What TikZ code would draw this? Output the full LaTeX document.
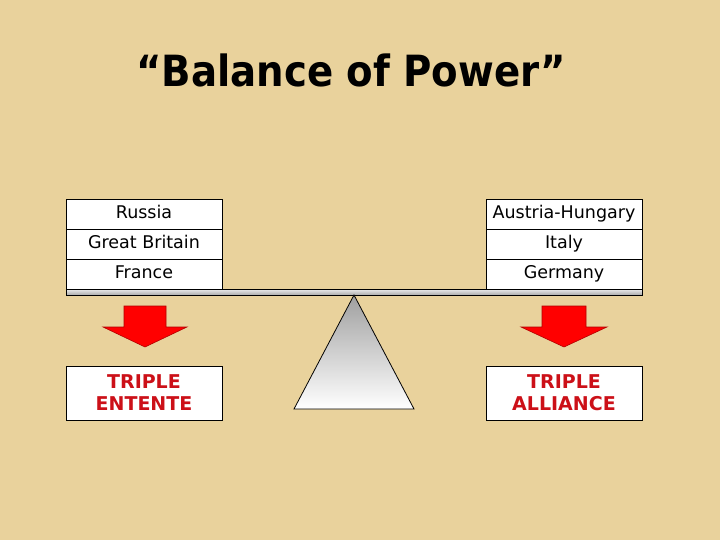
\documentclass[tikz,border=0pt]{standalone}
\usepackage{fontspec}
\setmainfont{DejaVu Sans}
\newfontfamily\titlefont{DejaVu Sans Condensed}
\usepackage{xcolor}
\usetikzlibrary{positioning}
\definecolor{parchment}{RGB}{233,210,156}
\definecolor{pactred}{RGB}{204,16,24}
\tikzstyle{country} = [rectangle, draw, fill=white, line width=0.8pt, minimum width=156pt, minimum height=30pt, inner sep=0, outer sep=0, text height=12.5pt, text depth=3.5pt, font=\fontsize{17.5}{20}\selectfont]
\tikzstyle{pact} = [rectangle, draw, fill=white, line width=0.8pt, minimum width=156pt, minimum height=54pt, inner sep=0, outer sep=0, align=center, text=pactred, font=\bfseries\fontsize{19}{22}\selectfont]
\tikzstyle{push} = [draw=red!70!black, line width=0.6pt, fill=red]
\tikzstyle{beam} = [draw, line width=0.8pt, top color=white!85!gray, bottom color=gray!65]
\tikzstyle{pivot} = [draw, line width=0.8pt, top color=gray!75, bottom color=white]

\begin{document}
\begin{tikzpicture}[x=1pt, y=-1pt]

\fill [parchment] (0,0) rectangle (720,540);
\useasboundingbox (0,0) rectangle (720,540);

\node [font=\titlefont\bfseries\fontsize{43}{48}\selectfont] (title) at (351,70) {“Balance of Power”};

% left pan
\node [country] (russia) at (144,214) {Russia};
\node [country, below=0pt of russia] (britain) {Great Britain};
\node [country, below=0pt of britain] (france) {France};

% right pan
\node [country] (austria) at (564,214) {Austria-Hungary};
\node [country, below=0pt of austria] (italy) {Italy};
\node [country, below=0pt of italy] (germany) {Germany};

% beam and fulcrum
\coordinate (bl) at (66,289);
\coordinate (br) at (642,295);
\path [beam] (bl) rectangle (br);
\coordinate (apex) at (354,295);
\path [pivot] (apex) -- ++(60,114) -- ++(-120,0) -- cycle;

% arrows
\coordinate (la) at (145,306);
\coordinate (ra) at (564,306);
\path [push] (la) ++(-21,0) -- ++(42,0) -- ++(0,21) -- ++(21,0) -- (145,347) -- ++(-42,-20) -- ++(21,0) -- cycle;
\path [push] (ra) ++(-22,0) -- ++(44,0) -- ++(0,21) -- ++(21,0) -- (564,347) -- ++(-43,-20) -- ++(21,0) -- cycle;

\node [pact] (entente) at (144,393) {TRIPLE\\ENTENTE};
\node [pact] (alliance) at (564,393) {TRIPLE\\ALLIANCE};

\end{tikzpicture}
\end{document}
